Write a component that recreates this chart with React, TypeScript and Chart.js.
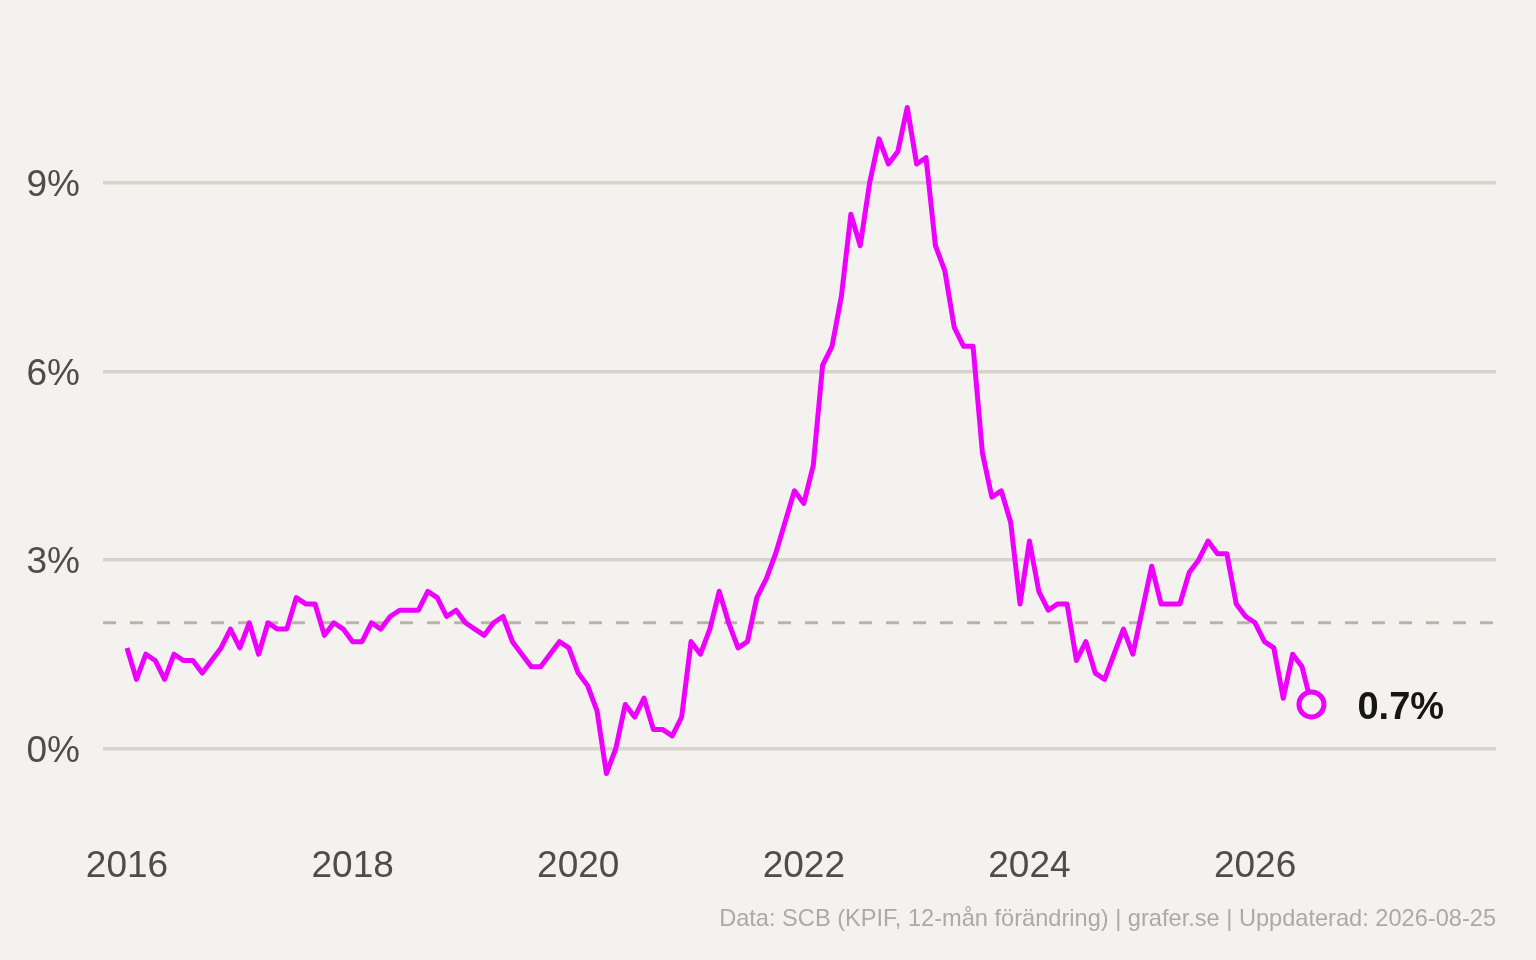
import { useEffect, useRef } from "react"
import { Chart, registerables } from "chart.js"

Chart.register(...registerables)

// KPIF, 12-month change (%), Jan..Dec per year
const kpif2016 = [1.6, 1.1, 1.5, 1.4, 1.1, 1.5, 1.4, 1.4, 1.2, 1.4, 1.6, 1.9]
const kpif2017 = [1.6, 2.0, 1.5, 2.0, 1.9, 1.9, 2.4, 2.3, 2.3, 1.8, 2.0, 1.9]
const kpif2018 = [1.7, 1.7, 2.0, 1.9, 2.1, 2.2, 2.2, 2.2, 2.5, 2.4, 2.1, 2.2]
const kpif2019 = [2.0, 1.9, 1.8, 2.0, 2.1, 1.7, 1.5, 1.3, 1.3, 1.5, 1.7, 1.6]
const kpif2020 = [1.2, 1.0, 0.6, -0.4, 0.0, 0.7, 0.5, 0.8, 0.3, 0.3, 0.2, 0.5]
const kpif2021 = [1.7, 1.5, 1.9, 2.5, 2.0, 1.6, 1.7, 2.4, 2.7, 3.1, 3.6, 4.1]
const kpif2022 = [3.9, 4.5, 6.1, 6.4, 7.2, 8.5, 8.0, 9.0, 9.7, 9.3, 9.5, 10.2]
const kpif2023 = [9.3, 9.4, 8.0, 7.6, 6.7, 6.4, 6.4, 4.7, 4.0, 4.1, 3.6, 2.3]
const kpif2024 = [3.3, 2.5, 2.2, 2.3, 2.3, 1.4, 1.7, 1.2, 1.1, 1.5, 1.9, 1.5]
const kpif2025 = [2.2, 2.9, 2.3, 2.3, 2.3, 2.8, 3.0, 3.3, 3.1, 3.1, 2.3, 2.1]
const kpif2026 = [2.0, 1.7, 1.6, 0.8, 1.5, 1.3, 0.7]

const years = [2016, 2017, 2018, 2019, 2020, 2021, 2022, 2023, 2024, 2025, 2026]
const yearValues = [kpif2016, kpif2017, kpif2018, kpif2019, kpif2020, kpif2021, kpif2022, kpif2023, kpif2024, kpif2025, kpif2026]

const xTicks = [2016, 2018, 2020, 2022, 2024, 2026]
const yTicks = [0, 3, 6, 9]
const target = 2

const xMin = 2015.787
const xMax = 2028.136
const yMin = -1.2
const yMax = 11

const source = "Data: SCB (KPIF, 12-mån förändring) | grafer.se | Uppdaterad: 2026-08-25"

const BG = "#f4f2ee"
const MAGENTA = "#ee00ff"
const FONT = "'Liberation Sans', Arial, sans-serif"

const points = years.flatMap((yr, i) =>
  yearValues[i].map((v, m) => ({ x: yr + m / 12, y: v }))
)

const endLabel = {
  id: "endLabel",
  afterDatasetsDraw(chart: any) {
    const meta = chart.getDatasetMeta(0)
    const last = meta.data[meta.data.length - 1]
    if (!last) return
    const ctx = chart.ctx
    const v = points[points.length - 1].y
    ctx.save()
    ctx.font = `bold 38px ${FONT}`
    ctx.fillStyle = "#161616"
    ctx.textAlign = "left"
    ctx.textBaseline = "middle"
    ctx.fillText(`${v.toFixed(1)}%`, last.x + 46, last.y + 4)
    ctx.restore()
  },
}

export default function App() {
  const canvasRef = useRef<HTMLCanvasElement>(null)
  const chartRef = useRef<Chart | null>(null)

  useEffect(() => {
    document.body.style.margin = "0"
    if (!canvasRef.current) return
    if (chartRef.current) chartRef.current.destroy()
    const ctx = canvasRef.current.getContext("2d")
    if (!ctx) return

    chartRef.current = new Chart(ctx, {
      type: "line",
      data: {
        datasets: [
          {
            data: points,
            borderColor: MAGENTA,
            borderWidth: 5,
            tension: 0,
            borderJoinStyle: "round",
            pointRadius: points.map((_, i) => (i === points.length - 1 ? 12.5 : 0)),
            pointBorderWidth: 5,
            pointBorderColor: MAGENTA,
            pointBackgroundColor: BG,
            order: 1,
          },
          {
            data: [
              { x: xMin, y: target },
              { x: xMax, y: target },
            ],
            borderColor: "#bab4a8",
            borderWidth: 3,
            borderDash: [13, 14],
            pointRadius: 0,
            order: 2,
          },
        ],
      },
      options: {
        animation: false,
        responsive: false,
        layout: { padding: { top: 57.2, right: 40, bottom: 26.1, left: 0 } },
        plugins: {
          legend: { display: false },
          tooltip: { enabled: false },
          title: {
            display: true,
            position: "bottom",
            align: "end",
            text: source,
            color: "#aaaaaa",
            font: { family: FONT, size: 23.6, weight: "normal" },
            padding: 0,
          },
        },
        scales: {
          x: {
            type: "linear",
            min: xMin,
            max: xMax,
            grid: { display: false, drawTicks: false },
            border: { display: false },
            afterBuildTicks: (scale: any) => {
              scale.ticks = xTicks.map((value) => ({ value }))
            },
            afterFit: (scale: any) => {
              scale.height = 81.7
            },
            ticks: {
              color: "#4d4d4d",
              font: { family: FONT, size: 37 },
              padding: 21,
              maxRotation: 0,
              callback: (v: any) => String(v),
            },
          },
          y: {
            min: yMin,
            max: yMax,
            grid: { color: "#d7d3ca", lineWidth: 3.5, drawTicks: false },
            border: { display: false },
            afterBuildTicks: (scale: any) => {
              scale.ticks = yTicks.map((value) => ({ value }))
            },
            afterFit: (scale: any) => {
              scale.width = 103
            },
            ticks: {
              color: "#4d4d4d",
              font: { family: FONT, size: 37 },
              padding: 23,
              labelOffset: 3,
              callback: (v: any) => `${v}%`,
            },
          },
        },
      },
      plugins: [endLabel],
    })

    return () => {
      if (chartRef.current) {
        chartRef.current.destroy()
        chartRef.current = null
      }
    }
  }, [])

  return (
    <div style={{ position: "fixed", left: 0, top: 0, width: 1536, height: 960, background: BG }}>
      <canvas ref={canvasRef} width={1536} height={960} style={{ width: 1536, height: 960 }} />
    </div>
  )
}
